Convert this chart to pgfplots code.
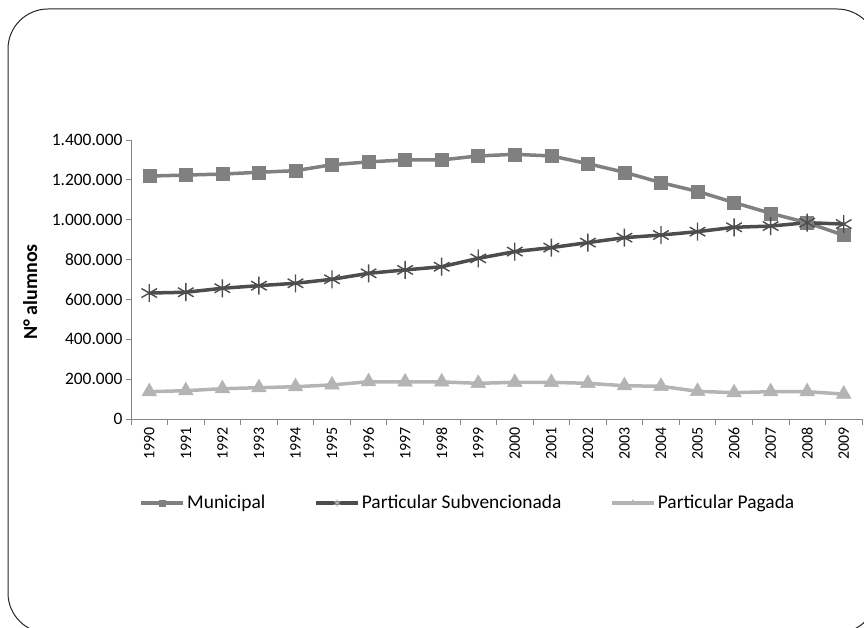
\documentclass[border=0pt]{standalone}
\usepackage{pgfplots}
\pgfplotsset{compat=1.18}
\usepackage{fontspec}
\setmainfont{Carlito}

\definecolor{muni}{HTML}{808080}
\definecolor{subv}{HTML}{4D4D4D}
\definecolor{paga}{HTML}{B4B4B4}
\definecolor{axisgray}{HTML}{868686}

% años 1990-2009 en posiciones 0..19
\pgfplotstableread{
x municipal subvencionada pagada
0  1219000 632000 137000
1  1224000 636000 142000
2  1229000 656000 152000
3  1238000 669000 157000
4  1246000 681000 162000
5  1276000 701000 171000
6  1290000 731000 187000
7  1300000 748000 186000
8  1300000 764000 186000
9  1320000 806000 179000
10 1328000 840000 184000
11 1320000 860000 184000
12 1281000 885000 179000
13 1238000 910000 167000
14 1186000 923000 164000
15 1142000 940000 139000
16 1086000 962000 132000
17 1032000 968000 137000
18  985000 985000 137000
19  922000 978000 125000
}\datos

\begin{document}
\begin{tikzpicture}[x=1bp,y=1bp]
\useasboundingbox (0,0) rectangle (864,628);
\draw[line width=1bp, black!85, rounded corners=40bp] (8,-5) rectangle (877,619);
\begin{axis}[
  at={(131bp,209bp)}, anchor=south west,
  scale only axis, width=731bp, height=279bp,
  xmin=-0.5, xmax=19.5, ymin=0, ymax=1400000,
  axis x line=bottom, axis y line=left,
  axis line style={-, draw=axisgray, line width=0.8bp},
  tick align=outside,
  xtick={0,...,19},
  xticklabels={1990,1991,1992,1993,1994,1995,1996,1997,1998,1999,2000,2001,2002,2003,2004,2005,2006,2007,2008,2009},
  major x tick style={draw=none},
  minor xtick={-0.5,0.5,...,19.5},
  minor tick length=6bp,
  minor x tick style={draw=axisgray, line width=0.8bp},
  ytick={0,200000,...,1400000},
  major tick length=5bp,
  y tick style={draw=axisgray, line width=0.8bp},
  scaled y ticks=false,
  /pgf/number format/.cd, fixed, 1000 sep={.}, assume math mode=true,
  /pgfplots/.cd,
  x tick label style={rotate=90, anchor=east, font=\fontsize{16}{16}\selectfont},
  y tick label style={font=\fontsize{17.5}{17.5}\selectfont},
  ylabel={N° alumnos},
  ylabel style={font=\bfseries\fontsize{20}{20}\selectfont, at={(axis description cs:-0.138,0.455)}, anchor=center, rotate=0},
  legend columns=3,
  legend style={at={(axis description cs:0.461,-0.301)}, anchor=center, draw=none,
    font=\fontsize{19.5}{19.5}\selectfont,
    /tikz/every even column/.append style={column sep=47bp}},
  legend image code/.code={\draw[#1, mark size=4bp] plot coordinates {(0bp,0bp) (21bp,0bp) (42bp,0bp)};},
]
\addplot[muni, line width=3.5bp, mark=square*, mark size=6.5bp, mark repeat=1,
  mark options={solid, line width=0.5bp}, forget plot] table[x=x, y=municipal] {\datos};
\addplot[subv, line width=3.5bp, mark=asterisk, mark size=9bp,
  mark options={solid, line width=1.4bp}, forget plot] table[x=x, y=subvencionada] {\datos};
\addplot[paga, line width=3.5bp, mark=triangle*, mark size=8.5bp,
  mark options={solid, line width=0.5bp}, forget plot] table[x=x, y=pagada] {\datos};
% entradas de la leyenda con marcas pequeñas en el centro
\addlegendimage{muni, line width=3.5bp, mark=square*, mark repeat=2, mark phase=2, mark options={solid, line width=0.5bp, scale=0.7}}
\addlegendentry{Municipal}
\addlegendimage{subv, line width=3.5bp, mark=asterisk, mark repeat=2, mark phase=2, mark options={solid, line width=0.8bp, draw=paga, scale=0.9}}
\addlegendentry{Particular Subvencionada}
\addlegendimage{paga, line width=3.5bp, mark=triangle*, mark repeat=2, mark phase=2, mark options={solid, line width=0.5bp, scale=0.8}}
\addlegendentry{Particular Pagada}
\end{axis}
\end{tikzpicture}
\end{document}
